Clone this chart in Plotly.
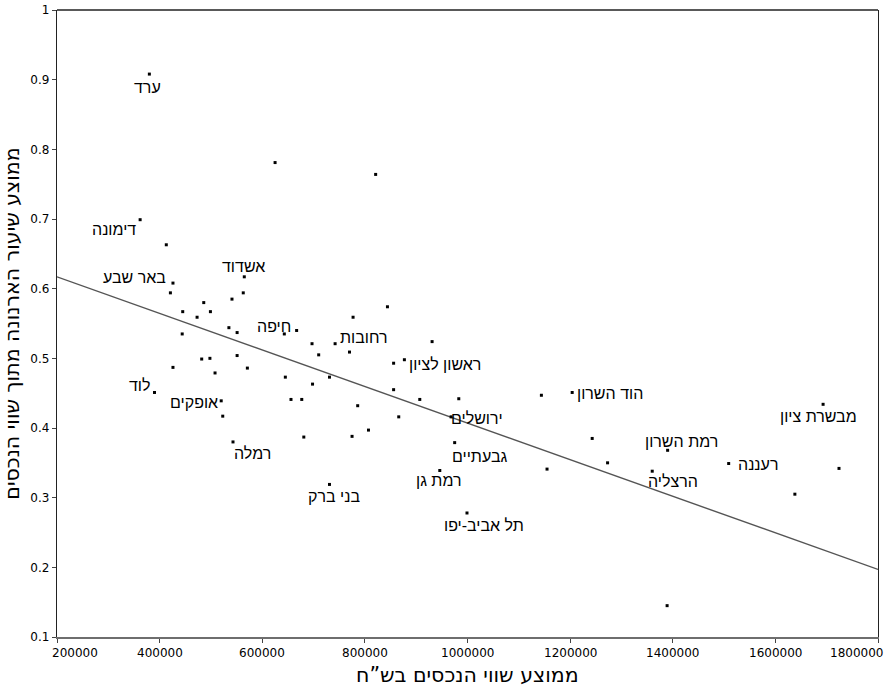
import plotly.graph_objects as go

# Average property value (NIS) per locality
property_value = [
    380000, 625000, 821000, 362000, 413000, 565000, 426000, 421000, 563000, 844000,
    541000, 486000, 445000, 473000, 499000, 444000, 535000, 551000, 643000, 667000,
    697000, 710000, 742000, 770000, 777000, 856000, 877000, 931000, 426000, 482000,
    498000, 508000, 551000, 571000, 645000, 698000, 731000, 390000, 520000, 656000,
    677000, 523000, 543000, 681000, 786000, 807000, 775000, 856000, 866000, 907000,
    983000, 1144000, 968000, 975000, 946000, 1155000, 731000, 999000, 1204000, 1243000,
    1273000, 1390000, 1360000, 1509000, 1693000, 1724000, 1638000, 1389000,
]

# Average arnona rate relative to property value
arnona_rate = [
    0.908, 0.781, 0.764, 0.699, 0.663, 0.617, 0.608, 0.594, 0.594, 0.574,
    0.585, 0.580, 0.567, 0.559, 0.567, 0.535, 0.544, 0.537, 0.535, 0.540,
    0.521, 0.505, 0.521, 0.509, 0.559, 0.493, 0.498, 0.524, 0.487, 0.499,
    0.500, 0.479, 0.504, 0.486, 0.473, 0.463, 0.473, 0.451, 0.439, 0.441,
    0.441, 0.417, 0.380, 0.387, 0.432, 0.397, 0.388, 0.455, 0.416, 0.441,
    0.442, 0.447, 0.416, 0.379, 0.339, 0.341, 0.319, 0.278, 0.451, 0.385,
    0.350, 0.368, 0.338, 0.349, 0.434, 0.342, 0.305, 0.145,
]

# Locality names (empty where the point is unnamed)
locality = [
    "ערד", "", "", "דימונה", "", "אשדוד", "באר שבע", "", "", "",
    "", "", "", "", "", "", "", "", "חיפה", "",
    "", "", "רחובות", "", "", "", "ראשון לציון", "", "", "",
    "", "", "", "", "", "", "", "לוד", "אופקים", "",
    "", "", "רמלה", "", "", "", "", "", "", "",
    "", "", "ירושלים", "גבעתיים", "רמת גן", "", "בני ברק", "תל אביב-יפו", "הוד השרון", "",
    "", "רמת השרון", "הרצליה", "רעננה", "מבשרת ציון", "", "", "",
]

# Linear trend line end points
trend_x = [200000, 1800000]
trend_y = [0.617, 0.197]

x_ticks = [200000, 400000, 600000, 800000, 1000000, 1200000, 1400000, 1600000, 1800000]
x_tick_text = ["200000", "400000", "600000", "800000", "1000000", "1200000", "1400000", "1600000", "1800000"]
y_ticks = [0.1, 0.2, 0.3, 0.4, 0.5, 0.6, 0.7, 0.8, 0.9, 1.0]
y_tick_text = ["0.1", "0.2", "0.3", "0.4", "0.5", "0.6", "0.7", "0.8", "0.9", "1"]

x_title = "ממוצע שווי הנכסים בש\u201dח"
y_title = "ממוצע שיעור הארנונה מתוך שווי הנכסים"

# Label placement around each named point: (xanchor, xshift, yshift)
label_place = {
    "ערד": ("center", -2, -13.5),
    "דימונה": ("right", -2.5, -10),
    "אשדוד": ("center", -1, 10.5),
    "באר שבע": ("right", -5, 5.5),
    "חיפה": ("center", -10, 7.5),
    "רחובות": ("left", 2.5, 6.5),
    "ראשון לציון": ("left", 3, -5),
    "לוד": ("right", -1.5, 6.5),
    "אופקים": ("right", -1.5, -1.5),
    "רמלה": ("center", 19, -12),
    "ירושלים": ("left", -2, -1.5),
    "גבעתיים": ("left", -5, -14),
    "רמת גן": ("center", -1, -10),
    "בני ברק": ("center", 5, -12.5),
    "תל אביב-יפו": ("center", 17, -12.5),
    "הוד השרון": ("left", 2.5, -1),
    "רמת השרון": ("center", 13.5, 8.5),
    "הרצליה": ("center", 20.5, -10),
    "רעננה": ("left", 7.5, -1),
    "מבשרת ציון": ("center", -4.5, -12.5),
}

TICK_FONT = dict(family="DejaVu Sans", size=12, color="black")
TITLE_FONT = dict(family="DejaVu Sans", size=20.5, color="black")

fig = go.Figure()

fig.add_trace(go.Scatter(
    x=trend_x, y=trend_y, mode="lines",
    line=dict(color="#555555", width=1.4),
    hoverinfo="skip", showlegend=False,
))

fig.add_trace(go.Scatter(
    x=property_value, y=arnona_rate, mode="markers",
    marker=dict(symbol="square", size=3, color="black", line=dict(width=0)),
    text=locality, showlegend=False,
))

for name, xv, yv in zip(locality, property_value, arnona_rate):
    if not name:
        continue
    anchor, dx, dy = label_place[name]
    fig.add_annotation(
        x=xv, y=yv, text=name, showarrow=False,
        xanchor=anchor, yanchor="middle", xshift=dx, yshift=dy,
        font=dict(family="Liberation Sans", size=16, color="black"),
    )

# X tick labels; the outermost ones are kept inside the page edges
for i, (tv, tt) in enumerate(zip(x_ticks, x_tick_text)):
    if i == 0:
        anchor, dx = "left", -7
    elif i == len(x_ticks) - 1:
        anchor, dx = "right", 7
    else:
        anchor, dx = "center", 0
    fig.add_annotation(
        x=tv, y=0, xref="x", yref="paper", text=tt, showarrow=False,
        xanchor=anchor, yanchor="top", xshift=dx, yshift=-7,
        font=TICK_FONT,
    )

# X axis title
fig.add_annotation(
    x=0.5, y=0, xref="paper", yref="paper", text=x_title, showarrow=False,
    xanchor="center", yanchor="middle", yshift=-38, font=TITLE_FONT,
)

# Top border of the frame
fig.add_shape(type="line", xref="paper", yref="paper", x0=0, x1=1, y0=1, y1=1,
              line=dict(color="#222222", width=1.3))

fig.update_layout(
    width=891, height=687,
    margin=dict(l=57, r=13, t=10, b=50, autoexpand=False),
    paper_bgcolor="white", plot_bgcolor="white",
    font=dict(family="DejaVu Sans", color="black"),
)

fig.update_xaxes(
    range=[200000, 1800000], tickvals=x_ticks, showticklabels=False,
    showgrid=False, zeroline=False, automargin=False,
    showline=True, linecolor="#6e6e6e", linewidth=2,
    ticks="outside", ticklen=4, tickcolor="#444444",
)
fig.update_yaxes(
    range=[0.1, 1.0], tickvals=y_ticks, ticktext=y_tick_text,
    showgrid=False, zeroline=False, automargin=False,
    showline=True, linecolor="#222222", linewidth=1.3, mirror=True,
    ticks="outside", ticklen=4, tickcolor="#444444",
    tickfont=TICK_FONT,
    title=dict(text=y_title, font=TITLE_FONT, standoff=8),
)

fig.write_html("out.html")
